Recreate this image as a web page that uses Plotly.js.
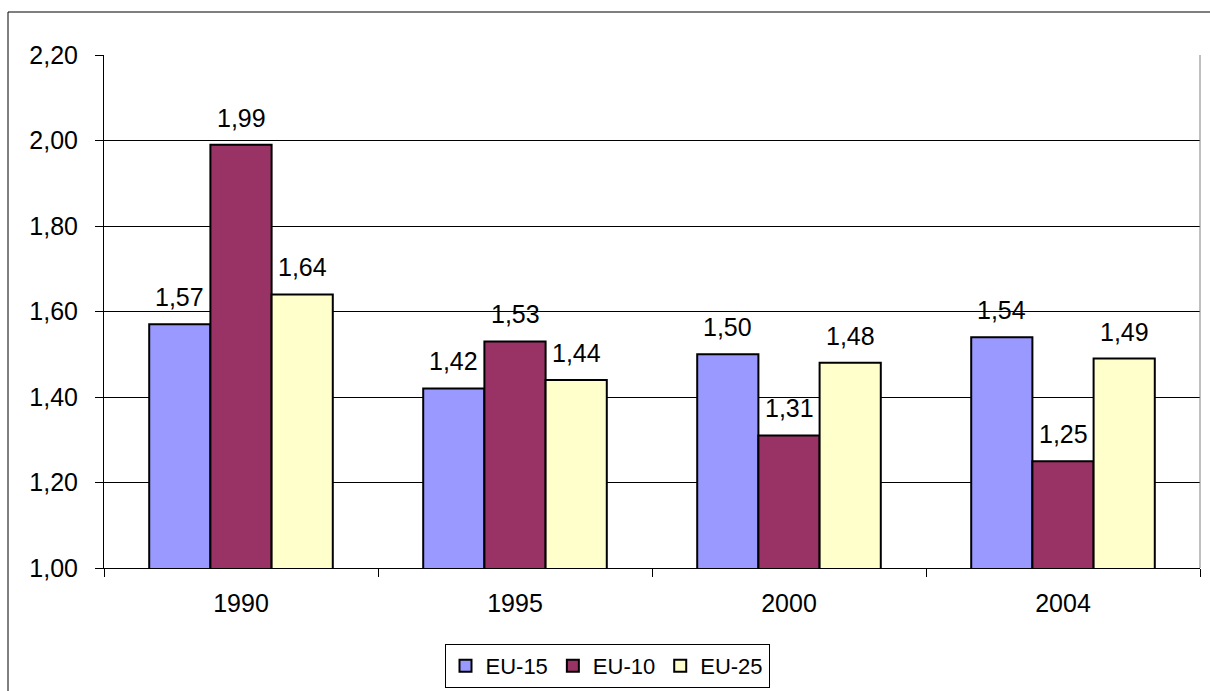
<!DOCTYPE html>
<html>
<head>
<meta charset="utf-8">
<script src="https://cdn.plot.ly/plotly-3.0.1.min.js"></script>
<style>
html,body{margin:0;padding:0;background:#fff;}
#chart{width:1210px;height:691px;}
</style>
</head>
<body>
<div id="chart"></div>
<script>
const years = ['1990', '1995', '2000', '2004'];
const seriesNames = ['EU-15', 'EU-10', 'EU-25'];
const eu15 = [1.57, 1.42, 1.50, 1.54];
const eu10 = [1.99, 1.53, 1.31, 1.25];
const eu25 = [1.64, 1.44, 1.48, 1.49];
const colors = ['#9999FF', '#993366', '#FFFFCC'];

const allSeries = [eu15, eu10, eu25];
const fmt = v => v.toFixed(2).replace('.', ',');
const FONT = 'Liberation Sans, Arial, sans-serif';
const FS = 25;

const traces = allSeries.map((vals, i) => ({
  type: 'bar',
  name: seriesNames[i],
  x: years,
  y: vals,
  marker: {color: colors[i], line: {color: '#000', width: 2}},
  hoverinfo: 'skip'
}));

const bargap = 0.33;
const barW = (1 - bargap) / allSeries.length;
const annotations = [];
allSeries.forEach((vals, i) => {
  vals.forEach((v, j) => {
    annotations.push({
      xref: 'x', yref: 'y',
      x: j + (i - 1) * barW,
      y: v,
      text: fmt(v),
      showarrow: false,
      yanchor: 'bottom',
      yshift: 11,
      font: {family: FONT, size: FS, color: '#000'}
    });
  });
});

const L = 104, R = 1200, T = 55, B = 568;
const pw = R - L, ph = B - T;
const px = v => (v - L) / pw;
const py = v => (B - v) / ph;

const layout = {
  width: 1210, height: 691,
  margin: {l: L, r: 1210 - R, t: T, b: 691 - B, autoexpand: false},
  paper_bgcolor: '#fff',
  plot_bgcolor: '#fff',
  separators: ', ',
  barmode: 'group',
  bargap: bargap,
  bargroupgap: 0,
  font: {family: FONT, size: FS, color: '#000'},
  showlegend: true,
  legend: {
    orientation: 'h',
    x: px(607), xanchor: 'center',
    y: py(644), yanchor: 'top',
    bordercolor: '#000', borderwidth: 1,
    bgcolor: '#fff',
    font: {family: FONT, size: 22, color: '#000'},
    traceorder: 'normal',
    itemwidth: 30
  },
  xaxis: {
    type: 'category',
    showline: true, linecolor: '#000', linewidth: 1,
    ticks: 'outside', tickson: 'boundaries', ticklen: 8, tickcolor: '#000',
    showgrid: false,
    tickfont: {family: FONT, size: FS, color: '#000'},
    ticklabelstandoff: 13,
    fixedrange: true
  },
  yaxis: {
    range: [1, 2.2],
    dtick: 0.2, tick0: 1,
    tickformat: '.2f',
    showline: true, linecolor: '#000', linewidth: 1,
    ticks: 'outside', ticklen: 8, tickcolor: '#000',
    showgrid: true, gridcolor: '#000', gridwidth: 1,
    zeroline: false,
    tickfont: {family: FONT, size: FS, color: '#000'},
    ticklabelstandoff: 12,
    fixedrange: true
  },
  annotations: annotations,
  shapes: [
    {type: 'rect', xref: 'paper', yref: 'paper',
     x0: px(8), x1: px(1230), y0: py(780), y1: py(12),
     line: {color: '#000', width: 1}, fillcolor: 'rgba(0,0,0,0)', layer: 'below'},
    {type: 'line', xref: 'paper', yref: 'paper',
     x0: 1, x1: 1, y0: 0, y1: 1,
     line: {color: '#808080', width: 1}}
  ]
};

Plotly.newPlot('chart', traces, layout, {staticPlot: true, displayModeBar: false});
</script>
</body>
</html>
